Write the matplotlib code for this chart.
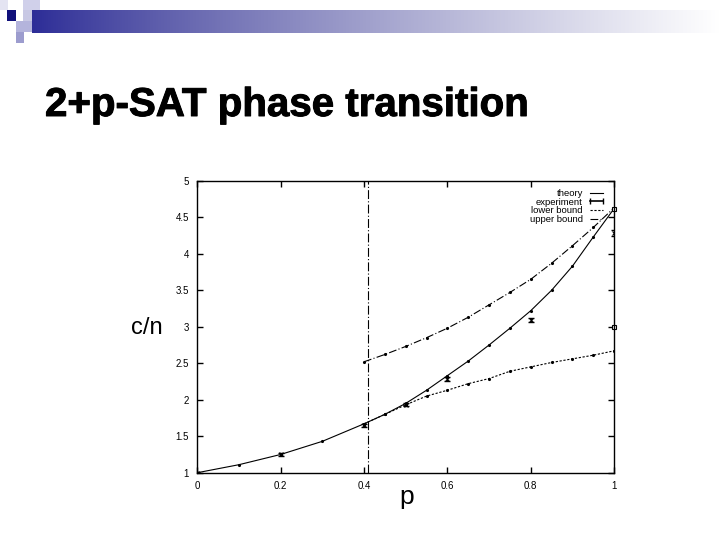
import numpy as np
import matplotlib
matplotlib.use("Agg")
import matplotlib.pyplot as plt
from matplotlib.patches import Rectangle
from matplotlib.lines import Line2D
import matplotlib.patheffects as pe

plt.rcParams['font.family'] = ['Liberation Sans', 'DejaVu Sans']

# values
theory_p = [0.0, 0.1, 0.2, 0.3, 0.4, 0.45, 0.5, 0.55, 0.6, 0.65, 0.7, 0.75, 0.8, 0.85, 0.9, 0.95, 1.0]
theory_c = [1.0, 1.11, 1.25, 1.43, 1.67, 1.80, 1.95, 2.13, 2.33, 2.53, 2.75, 2.98, 3.22, 3.50, 3.83, 4.23, 4.62]

exp_p = [0.0, 0.2, 0.4, 0.5, 0.6, 0.8, 1.0]
exp_c = [1.0, 1.25, 1.65, 1.93, 2.28, 3.09, 4.28]
exp_err = [0.01, 0.02, 0.02, 0.02, 0.03, 0.03, 0.04]

lower_p = [0.4, 0.45, 0.5, 0.55, 0.6, 0.65, 0.7, 0.75, 0.8, 0.85, 0.9, 0.95, 1.0]
lower_c = [1.67, 1.80, 1.93, 2.05, 2.13, 2.22, 2.29, 2.39, 2.45, 2.51, 2.56, 2.61, 2.67]

upper_p = [0.4, 0.45, 0.5, 0.55, 0.6, 0.65, 0.7, 0.75, 0.8, 0.85, 0.9, 0.95, 1.0]
upper_c = [2.52, 2.62, 2.73, 2.85, 2.98, 3.13, 3.30, 3.47, 3.65, 3.87, 4.11, 4.36, 4.63]

extra_p = [1.0, 1.0]
extra_c = [4.61, 3.0]

p_crit = 0.41

legend_labels = ['theory', 'experiment', 'lower bound', 'upper bound']

fig = plt.figure(figsize=(7.2, 5.4), dpi=100)

# slide decoration
bg = fig.add_axes([0, 0, 1, 1], zorder=-1)
bg.set_xlim(0, 720)
bg.set_ylim(540, 0)
bg.axis('off')
grad = np.linspace(0, 1, 256).reshape(1, -1)
navy = np.array([0.10, 0.10, 0.50])
cols = navy[None, None, :] * (1 - grad[..., None]) + grad[..., None] * 1.0
cols = np.clip(cols ** 0.75, 0, 1)
bg.imshow(cols, extent=[32, 720, 33, 10], aspect='auto')
for (x, y, w, h, c) in [(0, 0, 8, 10, '#e4e4f2'), (23, 0, 17, 10, '#d0d0ea'),
                        (7, 10, 9, 11, '#10107a'), (23, 10, 9, 11, '#c8c8e4'),
                        (16, 21, 16, 11, '#b4b4dc'), (16, 32, 8, 11, '#9c9cce')]:
    bg.add_patch(Rectangle((x, y), w, h, color=c, lw=0))

fig.text(45, 540 - 105, '2+p-SAT phase transition', transform=None,
         fontsize=29, fontweight='bold', va='center', ha='left',
         path_effects=[pe.withStroke(linewidth=0.7, foreground='black')])

ax = fig.add_axes([0.274, 0.1246, 0.579, 0.5407])
ax.plot(theory_p, theory_c, '-', color='black', lw=0.8, marker='.', ms=2.5)
ax.errorbar(exp_p, exp_c, yerr=exp_err, fmt='none', ecolor='black',
            elinewidth=0.8, capsize=2.5)
ax.plot(exp_p, exp_c, 'x', color='black', ms=3, mew=0.8)
ax.plot(lower_p, lower_c, color='black', lw=0.8, ls=(0, (2, 1.5)),
        marker='.', ms=2.5)
ax.plot(upper_p, upper_c, color='black', lw=0.8, ls=(0, (7, 2, 1, 2)),
        marker='.', ms=2.5)
ax.plot(extra_p, extra_c, 's', mfc='white', mec='black', ms=3.5, mew=0.8,
        clip_on=False)
ax.axvline(p_crit, color='black', lw=0.8, ls=(0, (8, 2, 1, 2)))

ax.set_xlim(0, 1)
ax.set_ylim(1, 5)
ax.set_xticks([0, 0.2, 0.4, 0.6, 0.8, 1])
ax.set_xticklabels(['0', '0.2', '0.4', '0.6', '0.8', '1'])
ax.set_yticks([1, 1.5, 2, 2.5, 3, 3.5, 4, 4.5, 5])
ax.set_yticklabels(['1', '1.5', '2', '2.5', '3', '3.5', '4', '4.5', '5'])
ax.tick_params(direction='in', top=True, right=True, length=4, width=1,
               labelsize=7, pad=6)
for s in ax.spines.values():
    s.set_linewidth(1)

handles = [
    Line2D([], [], color='black', lw=0.8),
    Line2D([], [], color='black', lw=1.2, marker='|', ms=5, mew=1),
    Line2D([], [], color='black', lw=0.8, ls=(0, (2, 1.5))),
    Line2D([], [], color='black', lw=0.8, ls=(0, (7, 2, 1, 2))),
]
ax.legend(handles, legend_labels, loc='upper right', fontsize=6.8,
          frameon=False, markerfirst=False, handlelength=2.0,
          labelspacing=-0.05, borderaxespad=0.5, handletextpad=0.4,
          numpoints=2)

fig.text(147, 540 - 328, 'c/n', transform=None, fontsize=17,
         ha='center', va='center')
fig.text(407, 540 - 497, 'p', transform=None, fontsize=19,
         ha='center', va='center')

fig.savefig('out.png', dpi=100)
